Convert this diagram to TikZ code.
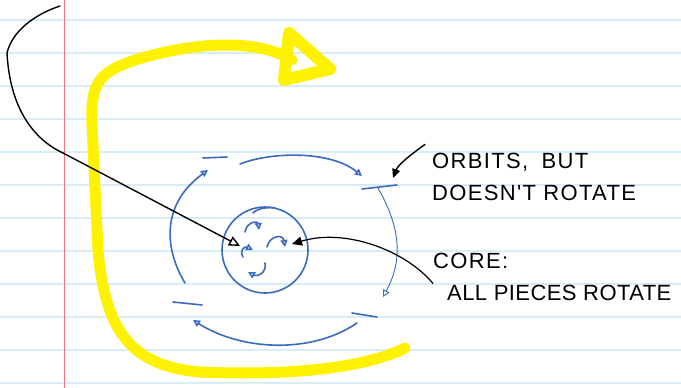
\documentclass[tikz,border=0pt]{standalone}
\usepackage{fontspec}
\usepackage{tikz}
\usetikzlibrary{arrows.meta,calc,positioning}
\newfontfamily\penfont[LetterSpace=6]{Liberation Sans}
\definecolor{ink}{HTML}{3A6BC0}
\definecolor{ruling}{HTML}{D8EDF8}
\definecolor{margin}{HTML}{F07A7A}
\definecolor{marker}{HTML}{FFF200}

\begin{document}
\begin{tikzpicture}[x=1pt,y=-1pt,>=Latex,
  orbit/.style={ink,line width=1.6pt,line cap=round},
  spin/.style={orbit,-{Triangle[open,length=7pt,width=7pt]}},
  pen/.style={line width=1.4pt,line cap=round},
  note/.style={anchor=base west,align=left,inner sep=0pt,
    font=\penfont\fontsize{22}{32}\selectfont}]
  \useasboundingbox (0,0) rectangle (681,388);
  % ruled paper
  \fill[white] (0,0) rectangle (681,388);
  \foreach \y in {20,53,...,383}
    \draw[ruling,line width=1.5pt] (0,\y) -- (681,\y);
  \draw[margin,line width=1pt] (64,0) -- (64,388);
  % highlighter arrow
  \draw[marker,line width=11pt,line cap=round,line join=round]
    (405,348) .. controls (365,368) and (290,376) .. (200,372)
    .. controls (130,366) and (105,330) .. (98,250) -- (92,125)
    .. controls (90,82) and (100,72) .. (135,60)
    .. controls (200,40) and (260,40) .. (292,60);
  \draw[marker,line width=12pt,line join=round] (289,33) -- (330,69) -- (284,80) -- cycle;
  % core
  \node[draw=ink,line width=1.6pt,circle,minimum size=86pt] (core) at (265,250) {};
  \draw[orbit] (253,213) .. controls (258,208) and (268,207) .. (275,208);
  \draw[spin] (245,232) .. controls (247,221) and (258,221) .. (259,230);
  \draw[spin] (267,247) .. controls (270,235) and (283,234) .. (285,247);
  \draw[spin] (243,257) .. controls (239,250) and (245,246) .. (253,250);
  \draw[spin] (265,263) .. controls (267,273) and (257,277) .. (248,272);
  % orbit
  \draw[orbit] (203,158) -- (227,157);
  \draw[spin] (240,164) .. controls (270,152) and (330,150) .. (362,176);
  \draw[orbit] (362,189) -- (397,185);
  \draw[spin,line width=0.9pt] (378,188) .. controls (402,230) and (402,262) .. (383,297);
  \draw[orbit] (352,313) -- (377,317);
  \draw[spin] (357,323) .. controls (310,355) and (240,350) .. (193,320);
  \draw[orbit] (173,302) -- (202,305);
  \draw[spin] (185,283) .. controls (165,250) and (160,205) .. (208,170);
  % notes
  \node[note] (orbits) at (432,200) {ORBITS,\hspace{6pt} BUT\\DOESN'T ROTATE};
  \node[note] (corenote) at (433,300) {CORE:\\\hspace{14pt}{\addfontfeature{LetterSpace=2}ALL PIECES ROTATE}};
  \coordinate (rim) at (393,178);
  \coordinate (coreW) at (240,246);
  \coordinate (coreE) at (292,244);
  \coordinate (tail) at (60,6);
  % pointers
  \draw[pen,-{Triangle[length=9pt,width=8pt]}] ([xshift=-7pt,yshift=8pt]orbits.north west)
    .. controls (410,155) and (398,165) .. (rim);
  \draw[pen,line width=1.2pt,-{Triangle[length=10pt,width=9pt]}] ([yshift=-7pt]corenote.west)
    .. controls (405,250) and (345,228) .. (coreE);
  \draw[pen,-{Triangle[open,length=11pt,width=10pt]}] (tail)
    .. controls (33,15) and (12,32) .. (7,53)
    .. controls (10,110) and (35,140) .. (63,153) -- (coreW);
\end{tikzpicture}
\end{document}
